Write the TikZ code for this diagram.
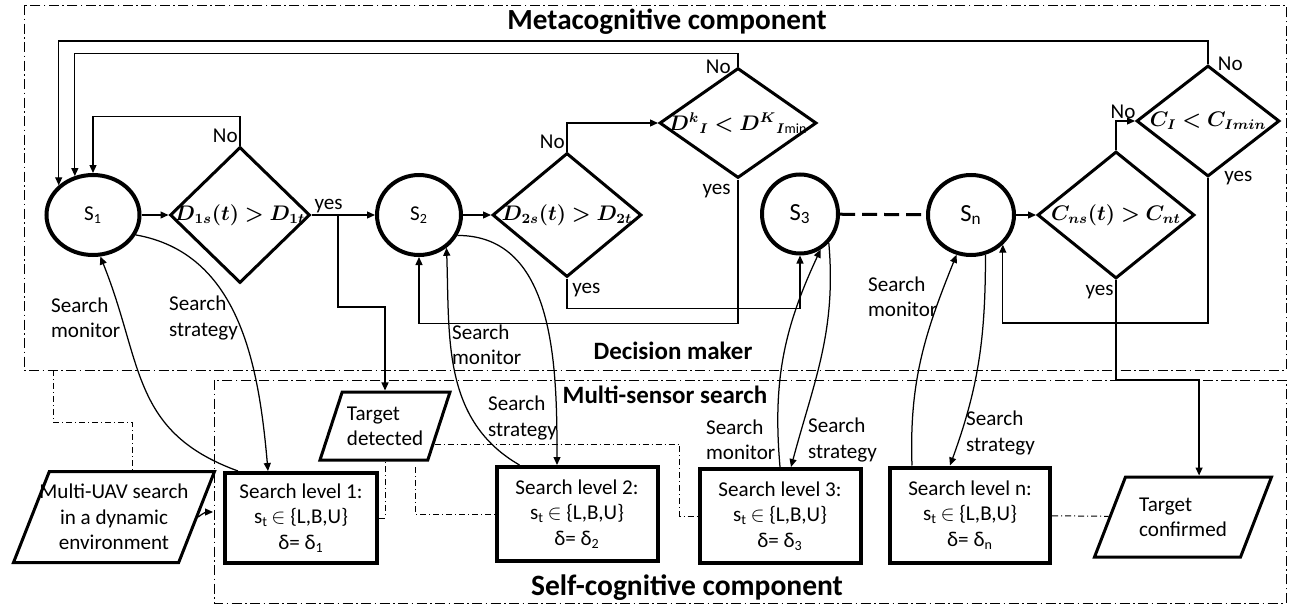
\documentclass[tikz,border=0pt]{standalone}
\usepackage{fontspec}
\usepackage{amsmath,bm}
\setmainfont{Carlito}
\usetikzlibrary{shapes.geometric,arrows.meta,positioning}

% formula inside a decision diamond, not sizing the node
\newcommand{\cond}[1]{\makebox[0pt]{\fontsize{12}{14}\selectfont$#1$}}

\begin{document}
\begin{tikzpicture}[x=0.2mm, y=-0.2mm, font=\fontsize{12}{14.4}\selectfont,
	state/.style={ellipse, draw, line width=0.8mm, inner sep=0pt, minimum height=16mm},
	decision/.style={diamond, draw, line width=0.6mm, inner sep=0pt},
	lvlbox/.style={rectangle, draw, line width=0.8mm, align=center, inner sep=0pt, minimum width=32.2mm, minimum height=18.8mm},
	io/.style={trapezium, trapezium left angle=67, trapezium right angle=113, trapezium stretches body, draw, line width=0.6mm, inner xsep=-4mm},
	flow/.style={line width=0.25mm, -{Triangle[length=1.6mm, width=1.4mm]}},
	link/.style={line width=0.2mm, dash pattern=on 1.2mm off 0.6mm on 0.2mm off 0.6mm},
	frame/.style={line width=0.2mm, dash pattern=on 2mm off 0.7mm on 0.3mm off 0.7mm},
	title/.style={font=\fontsize{#1}{#1}\selectfont\bfseries},
	lbl/.style={inner sep=1pt}]
	\useasboundingbox (0,0) rectangle (1292,607);

	% frames
	\draw[frame] (24,5) rectangle (1286,370);
	\draw[frame] (214,380) rectangle (1286,603);
	\node[title=16.6] (meta) at (667,22) {Metacognitive component};
	\node[title=14.2] (dm) at (673,351) {Decision maker};
	\node[title=14.2] (ms) at (665,395) {Multi-sensor search};
	\node[title=16.8] (self) at (687,588) {Self-cognitive component};

	% states
	\node[state, minimum width=18.6mm] (s1) at (93,215) {S\textsubscript{1}};
	\node[state, minimum width=16.8mm] (s2) at (419,215) {S\textsubscript{2}};
	\node[state, minimum width=15.2mm, minimum height=15.8mm, font=\fontsize{14}{16}\selectfont] (s3) at (800,214) {S\textsubscript{3}};
	\node[state, minimum width=17.2mm, font=\fontsize{14}{16}\selectfont] (sn) at (971,215) {S\textsubscript{n}};

	% decisions
	\node[decision, minimum width=28mm, minimum height=27.2mm] (d1) at (240,215) {\cond{\bm{D_{1s}(t) > D_{1t}}}};
	\node[decision, minimum width=29.8mm, minimum height=24.8mm] (d2) at (567,215) {\cond{\bm{D_{2s}(t) > D_{2t}}}};
	\node[decision, minimum width=31.4mm, minimum height=22mm] (dk) at (738,123) {\cond{\bm{D^{k}{}_{I} < D^{K}}{}_{\bm{I}\text{min}}}};
	\node[decision, minimum width=31.4mm, minimum height=25.4mm] (cns) at (1116,215) {\cond{\bm{C_{ns}(t) > C_{nt}}}};
	\node[decision, minimum width=28.6mm, minimum height=22.2mm] (ci) at (1208,121) {\cond{\bm{C_{I} < C_{Imin}}}};

	% search levels
	\node[lvlbox, minimum width=30.4mm, minimum height=18mm] (lv1) at (301,518) {Search level 1:\\ s\textsubscript{t}\,$\in$ \{L,B,U\}\\ δ= δ\textsubscript{1}};
	\node[lvlbox] (lv2) at (577,514) {Search level 2:\\ s\textsubscript{t}\,$\in$ \{L,B,U\}\\ δ= δ\textsubscript{2}};
	\node[lvlbox] (lv3) at (780,516) {Search level 3:\\ s\textsubscript{t}\,$\in$ \{L,B,U\}\\ δ= δ\textsubscript{3}};
	\node[lvlbox, minimum width=32mm, minimum height=19mm] (lvn) at (970,515) {Search level n:\\ s\textsubscript{t}\,$\in$ \{L,B,U\}\\ δ= δ\textsubscript{n}};

	% inputs and outputs
	\node[io, inner ysep=1.9mm, minimum width=40.2mm, minimum height=18.2mm, align=center] (uav) at (114,517) {Multi-UAV search\\ in a dynamic\\ environment};
	\node[io, inner ysep=2.2mm, trapezium left angle=70, trapezium right angle=110, minimum width=26mm, minimum height=13.6mm, align=left] (detect) at (385,426) {Target\\ detected};
	\node[io, inner ysep=3.4mm, minimum width=35.4mm, minimum height=16mm, align=left] (confirm) at (1183,517) {Target\\ confirmed};

	% labels of the curved links
	\node[lbl, anchor=west, align=left] (mon1) at (49,318) {Search\\ monitor};
	\node[lbl, anchor=west, align=left] (str1) at (167,318) {Search\\ strategy};
	\node[lbl, anchor=west, align=left] (mon2) at (450,345) {Search\\ monitor};
	\node[lbl, anchor=west, align=left] (str2) at (486,418) {Search\\ strategy};
	\node[lbl, anchor=west, align=left] (mon3) at (704,440) {Search\\ monitor};
	\node[lbl, anchor=west, align=left] (str3) at (806,440) {Search\\ strategy};
	\node[lbl, anchor=west, align=left] (monn) at (866,297) {Search\\ monitor};
	\node[lbl, anchor=west, align=left] (strn) at (964,433) {Search\\ strategy};

	\coordinate (yb) at (338,215);
	\coordinate (mb) at (53,370);
	\coordinate (dl) at (415,467);
	\coordinate (fb) at (213,512);

	% decision flow
	\draw[flow] (s1) -- (d1);
	\draw[flow] (d1) -- node[lbl, pos=0.27, above] {yes} (s2);
	\draw[flow] (s2) -- (d2);
	\draw[flow] (sn) -- (cns);
	\draw[line width=0.6mm, dash pattern=on 3mm off 1.4mm] (s3) -- (sn);
	\draw[flow] (yb) -- ++(0,92) -| (detect.north);

	\draw[flow] (d1.north) -- node[lbl, at start, above left] {No} ++(0,-29) -| (s1.north);
	\draw[flow] (d2.north) |- node[lbl, at start, above left] {No} (dk.west);
	\draw[flow] (dk.north) -- node[lbl, at start, left=1mm] {No} ++(0,-13) -| (s1.115);
	\draw[flow] (ci.north) -- node[lbl, at start, right=1.5mm] {No} ++(0,-23) -| (s1.north west);
	\draw[flow] (cns.north) |- node[lbl, pos=0.5, above, xshift=1.4mm] {No} (ci.west);

	\draw[flow] (dk.south) -- node[lbl, at start, below left=0.5mm and 1mm] {yes} ++(0,144) -| (s2.south);
	\draw[flow] (d2.south) -- node[lbl, at start, below right=0.5mm and 0.6mm] {yes} ++(0,30) -| (s3.south);
	\draw[flow] (ci.south) -- node[lbl, at start, right=2.8mm] {yes} ++(0,145) -| (sn.south east);
	\draw[flow] (cns.south) -- node[lbl, at start, below left=0.5mm and 0mm] {yes} ++(0,100) -| (confirm.top side);

	% search monitor / search strategy
	\draw[flow] ([xshift=3mm]lv1.north west) to[out=160, in=-68, looseness=1.15] (s1.280);
	\draw[flow] (s1.-25) to[out=-10, in=95] ([xshift=-6.6mm]lv1.north);
	\draw[flow] ([xshift=5mm]lv2.north west) to[out=150, in=-88] (s2.-50);
	\draw[flow] (s2.-28) to[out=0, in=90] ([xshift=-4mm]lv2.north);
	\draw[flow] (lv3.north) to[out=95, in=-115] (s3.-60);
	\draw[flow] (s3.-45) to[out=-85, in=75] ([xshift=2.2mm]lv3.north);
	\draw[flow] ([xshift=4.8mm]lvn.north west) to[out=92, in=-112] (sn.-110);
	\draw[flow] (sn.-70) to[out=-90, in=70] ([xshift=-4mm]lvn.north);

	% dash-dot links
	\draw[link] (mb) -- ++(0,52) -| (uav.north -| 132,0);
	\draw[link] (lv1.east) -| (detect.south);
	\draw[link] (dl) |- (lv2.west);
	\draw[link] (detect.-20) -| ([xshift=-3.6mm]lv3.west) -- (lv3.west);
	\draw[link] (lvn) -- (confirm);
	\draw[flow] (uav.east) to[out=40, in=180] (fb);
\end{tikzpicture}
\end{document}
